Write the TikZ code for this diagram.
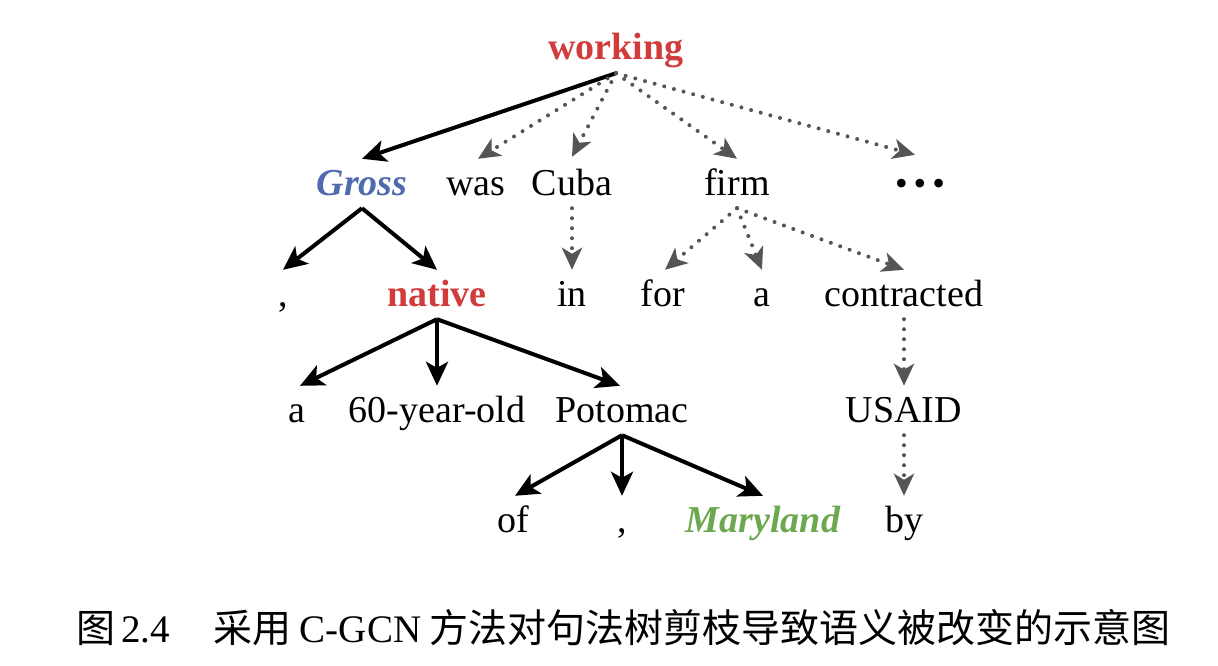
\documentclass[tikz,border=0pt]{standalone}
\usepackage{fontspec}
\setmainfont{Liberation Serif}
\newfontfamily\cjk{Noto Sans CJK SC}
\usetikzlibrary{arrows.meta}
\definecolor{wred}{HTML}{D13B3B}
\definecolor{wblue}{HTML}{4F6AAE}
\definecolor{wgreen}{HTML}{6BA84F}
\definecolor{dgray}{HTML}{555555}
\tikzset{
  word/.style={anchor=base, inner xsep=0pt, inner ysep=6pt, text height=30pt, text depth=7pt, font=\fontsize{38}{40}\selectfont},
  solidarr/.style={line width=4pt, black, -{Stealth[length=24pt,width=22pt,inset=6pt]}},
  dotarr/.style={line width=4pt, dgray, line cap=round, dash pattern=on 0pt off 10pt, -{Stealth[length=22pt,width=20pt,inset=6pt,line cap=butt]}},
}
\begin{document}
\begin{tikzpicture}[x=1pt,y=-1pt]
\path[use as bounding box] (0,0) rectangle (1218,666);
% row 0
\node[word, text=wred, font=\fontsize{38}{40}\selectfont\bfseries] (working) at (616,60) {working};
% row 1
\node[word, text=wblue, font=\fontsize{38}{40}\selectfont\bfseries\itshape] (gross) at (362,195) {Gross};
\node[word] (was) at (476,195) {was};
\node[word] (cuba) at (572,195) {Cuba};
\node[word] (firm) at (737,195) {firm};
\node[word, font=\fontsize{36}{38}\selectfont] (dots) at (920,195) {•\hspace{6pt}•\hspace{6pt}•};
% row 2
\node[word] (comma1) at (283,306) {,};
\node[word, text=wred, font=\fontsize{38}{40}\selectfont\bfseries] (native) at (437,306) {native};
\node[word] (in) at (572,306) {in};
\node[word] (for) at (663,306) {for};
\node[word] (a1) at (762,306) {a};
\node[word] (contracted) at (904,306) {contracted};
% row 3
\node[word] (a2) at (297,422) {a};
\node[word] (sixty) at (437,422) {60-year-old};
\node[word] (potomac) at (622,422) {Potomac};
\node[word] (usaid) at (904,422) {USAID};
% row 4
\node[word] (of) at (513,532) {of};
\node[word] (comma2) at (622,532) {,};
\node[word, text=wgreen, font=\fontsize{38}{40}\selectfont\bfseries\itshape] (maryland) at (763,532) {Maryland};
\node[word] (by) at (904,532) {by};
% arrows
\coordinate (w0) at ([yshift=0pt]working.south);
\draw[solidarr] (w0) -- (gross.north);
\draw[dotarr] (w0) -- ([xshift=2pt]was.north);
\draw[dotarr] (w0) -- ([yshift=2pt]cuba.north);
\draw[dotarr] (w0) -- (firm.north);
\draw[dotarr] (w0) -- ([xshift=-5pt,yshift=4pt]dots.north);
\draw[solidarr] (gross.south) -- (comma1.north);
\draw[solidarr] (gross.south) -- (native.north);
\draw[dotarr] (cuba.south) -- (in.north);
\draw[dotarr] (firm.south) -- ([xshift=2pt]for.north);
\draw[dotarr] (firm.south) -- (a1.north);
\draw[dotarr] (firm.south) -- (contracted.north);
\draw[solidarr] (native.south) -- ([xshift=3pt]a2.north);
\draw[solidarr] (native.south) -- (sixty.north);
\draw[solidarr] (native.south) -- ([xshift=-2pt]potomac.north);
\draw[dotarr] (contracted.south) -- (usaid.north);
\draw[solidarr] (potomac.south) -- ([xshift=2pt]of.north);
\draw[solidarr] (potomac.south) -- (comma2.north);
\draw[solidarr] (potomac.south) -- (maryland.north);
\draw[dotarr] (usaid.south) -- (by.north);
% caption
\node[anchor=base west, inner sep=0pt, font=\fontsize{39}{42}\selectfont] (caption) at (76,642) {{\cjk 图}\hspace{6pt}2.4\hspace{44pt}{\cjk 采用}\hspace{8pt}C-GCN\hspace{8pt}{\cjk 方法对句法树剪枝导致语义被改变的示意图}};
\end{tikzpicture}
\end{document}
